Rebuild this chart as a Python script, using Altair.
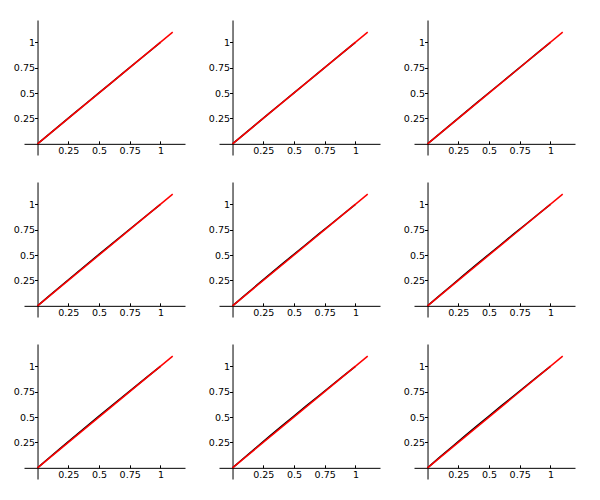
import altair as alt
import pandas as pd

# reference line y = x
ref_x = [0.0, 1.1]
ref_y = [0.0, 1.1]

# black curves (one per panel), sampled at black_x
black_x = [0.0, 0.1, 0.2, 0.3, 0.4, 0.5, 0.6, 0.7, 0.8, 0.9, 1.0]
black_y = [
    [0.0, 0.101, 0.201, 0.302, 0.402, 0.502, 0.601, 0.701, 0.801, 0.900, 1.0],
    [0.0, 0.101, 0.202, 0.302, 0.402, 0.502, 0.602, 0.702, 0.801, 0.901, 1.0],
    [0.0, 0.101, 0.202, 0.303, 0.403, 0.503, 0.602, 0.702, 0.801, 0.901, 1.0],
    [0.0, 0.103, 0.205, 0.306, 0.407, 0.507, 0.606, 0.705, 0.804, 0.902, 1.0],
    [0.0, 0.103, 0.206, 0.307, 0.408, 0.508, 0.607, 0.706, 0.804, 0.902, 1.0],
    [0.0, 0.103, 0.205, 0.307, 0.408, 0.508, 0.607, 0.706, 0.804, 0.902, 1.0],
    [0.0, 0.104, 0.207, 0.309, 0.410, 0.510, 0.609, 0.707, 0.805, 0.903, 1.0],
    [0.0, 0.104, 0.208, 0.310, 0.411, 0.511, 0.610, 0.708, 0.806, 0.903, 1.0],
    [0.0, 0.105, 0.208, 0.310, 0.411, 0.511, 0.610, 0.708, 0.806, 0.903, 1.0],
]

tick_values = [0.25, 0.5, 0.75, 1]

x_domain = [-0.11, 1.2]
y_domain = [-0.11, 1.22]
W, H = 161, 135
x_off = W * (0 - x_domain[0]) / (x_domain[1] - x_domain[0])
y_off = H * (0 - y_domain[0]) / (y_domain[1] - y_domain[0])

FONT = "DejaVu Sans"
FS = 9.5

xs = alt.Scale(domain=x_domain, nice=False, zero=False)
ys = alt.Scale(domain=y_domain, nice=False, zero=False)

ref_df = pd.DataFrame({"x": ref_x, "y": ref_y})

y_axis = alt.Axis(orient="left", offset=-x_off, values=tick_values,
                  format=".2~f", tickSize=3, tickColor="black", domainColor="black",
                  labelPadding=0, labelFont=FONT, labelFontSize=FS, labelColor="black",
                  grid=False)

panels = []
for k in range(9):
    bdf = pd.DataFrame({"x": black_x, "y": black_y[k]})
    black = alt.Chart(bdf).mark_line(color="black", strokeWidth=1.5).encode(
        x=alt.X("x:Q", scale=xs, title=None,
                axis=alt.Axis(orient="top", offset=-(H - y_off), values=tick_values,
                              labels=False, domain=False, tickSize=3, tickColor="black",
                              grid=False)),
        y=alt.Y("y:Q", scale=ys, title=None, axis=y_axis),
    )
    red = alt.Chart(ref_df).mark_line(color="#ff0000", strokeWidth=1.5).encode(
        x=alt.X("x:Q", scale=xs, title=None,
                axis=alt.Axis(orient="bottom", offset=-y_off, values=tick_values,
                              format=".2~f", ticks=False, domainColor="black",
                              labelPadding=2, labelFont=FONT, labelFontSize=FS,
                              labelColor="black", grid=False)),
        y=alt.Y("y:Q", scale=ys, title=None, axis=y_axis),
    )
    panels.append(alt.layer(black, red).resolve_axis(x="independent")
                  .properties(width=W, height=H))

chart = alt.concat(*panels, columns=3, spacing={"row": 27, "column": 34}).properties(
    bounds="flush",
    padding={"left": 5, "top": 12, "right": 5, "bottom": 5},
).configure_view(stroke=None)

chart.save("out.html", embed_options={"renderer": "svg", "actions": False})
